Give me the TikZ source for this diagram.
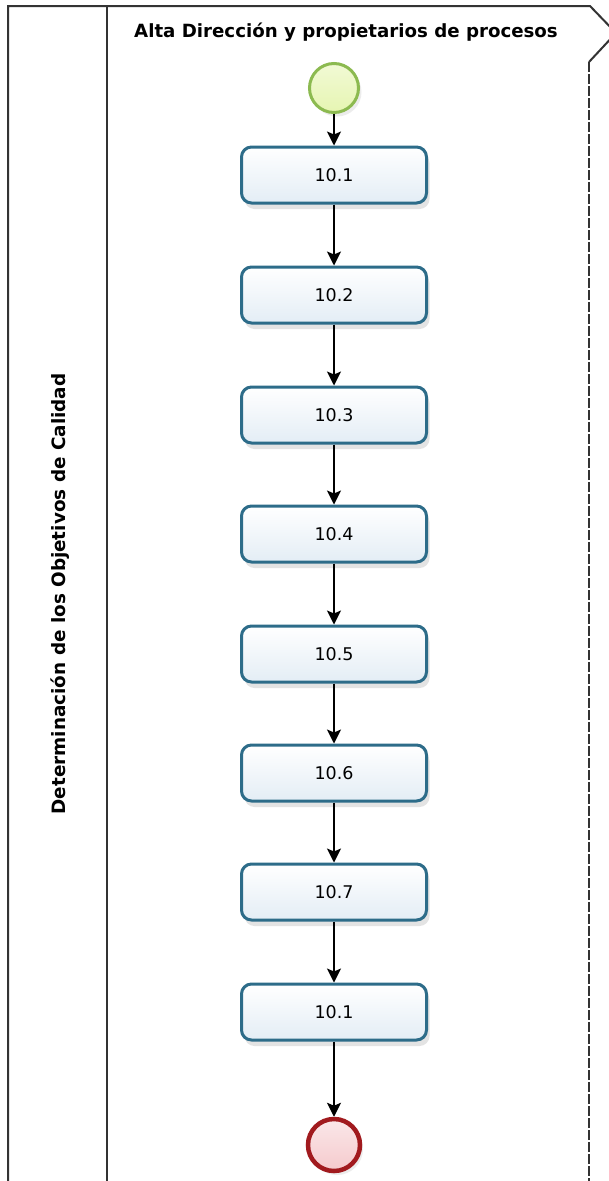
\documentclass[tikz,border=0pt]{standalone}
\usepackage{fontspec}
\setmainfont{DejaVu Sans}
\usetikzlibrary{arrows.meta,shadows}
\definecolor{poolline}{HTML}{333333}
\definecolor{taskline}{HTML}{2D6C89}
\definecolor{taskfill}{HTML}{E3EDF5}
\definecolor{startline}{HTML}{8CBA50}
\definecolor{startfill}{HTML}{E6F5B2}
\definecolor{endline}{HTML}{A11A1E}
\definecolor{endfill}{HTML}{F5CACD}
\tikzset{
  task/.style={draw=taskline, line width=3pt, rounded corners=10pt,
    minimum width=185pt, minimum height=56pt, top color=white, bottom color=taskfill,
    drop shadow={opacity=0.22, shadow xshift=3pt, shadow yshift=-6pt},
    font=\fontsize{17.5}{20}\selectfont},
  startev/.style={circle, draw=startline, line width=3pt, minimum size=49pt,
    top color=startfill!55, bottom color=startfill,
    drop shadow={opacity=0.15, shadow xshift=3pt, shadow yshift=-4pt}},
  endev/.style={circle, draw=endline, line width=4.5pt, minimum size=52pt,
    top color=endfill!45, bottom color=endfill,
    drop shadow={opacity=0.15, shadow xshift=3pt, shadow yshift=-4pt}},
  flow/.style={line width=1.6pt, -{Stealth[length=14pt,width=14pt,inset=3pt]}},
  poolstroke/.style={draw=poolline, line width=2pt},
  lanetitle/.style={font=\bfseries\fontsize{18.2}{21}\selectfont}
}
\begin{document}
\begin{tikzpicture}[x=1pt,y=-1pt]
\useasboundingbox (0,0) rectangle (609,1181);
\fill[white] (0,0) rectangle (609,1181);
\begin{scope}
\clip (0,0) rectangle (609,1181);
% pool frame
\draw[poolstroke] (8,1185) -- (8,6) -- (590,6) -- (616,33) -- (589,62);
\draw[poolstroke, dash pattern=on 10pt off 2pt] (589,62) -- (589,1185);
\draw[poolstroke] (107,6) -- (107,1185);
\end{scope}

% labels
\node[lanetitle] (title) at (346,32) {Alta Dirección y propietarios de procesos};
\node[lanetitle, font=\bfseries\fontsize{18.4}{21}\selectfont, rotate=90] (pool) at (60,594) {Determinación de los Objetivos de Calidad};

% events and tasks
\node[startev] (start) at (334,88) {};
\node[task] (t1) at (334,175) {10.1};
\node[task] (t2) at (334,295) {10.2};
\node[task] (t3) at (334,415) {10.3};
\node[task] (t4) at (334,534) {10.4};
\node[task] (t5) at (334,654) {10.5};
\node[task] (t6) at (334,773) {10.6};
\node[task] (t7) at (334,892) {10.7};
\node[task] (t8) at (334,1012) {10.1};
\node[endev] (end) at (334,1145) {};

% sequence flows
\draw[flow] (start) -- (t1);
\draw[flow] (t1) -- (t2);
\draw[flow] (t2) -- (t3);
\draw[flow] (t3) -- (t4);
\draw[flow] (t4) -- (t5);
\draw[flow] (t5) -- (t6);
\draw[flow] (t6) -- (t7);
\draw[flow] (t7) -- (t8);
\draw[flow] (t8) -- (end);
\end{tikzpicture}
\end{document}
